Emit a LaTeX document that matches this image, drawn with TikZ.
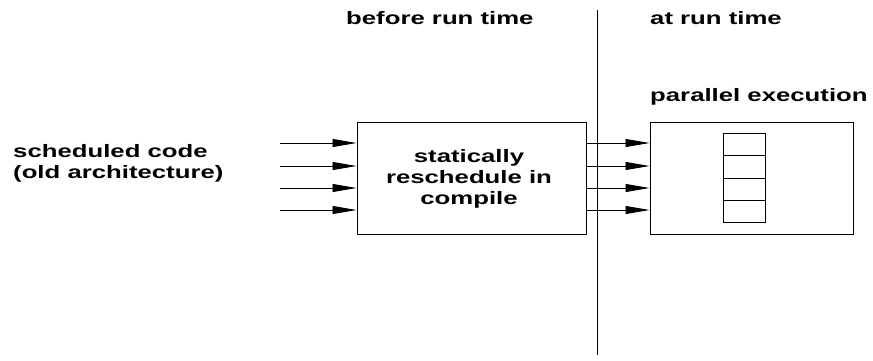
\documentclass[tikz,border=0pt]{standalone}
\usepackage{fontspec}
\setmainfont{Liberation Sans}[FakeStretch=1.43]
\usetikzlibrary{arrows.meta}

\begin{document}
\begin{tikzpicture}[x=1pt, y=-1pt,
    lbl/.style={font=\fontsize{18}{21}\selectfont\bfseries, inner sep=0pt},
    blk/.style={draw, line width=1pt, inner sep=0pt},
    flow/.style={-{Triangle[length=24pt, width=8pt]}, line width=0.9pt}]
    \useasboundingbox (0, 0) rectangle (873, 360);

    % divider
    \coordinate (top) at (597, 10);
    \coordinate (bot) at (597, 355);
    \draw[line width=1pt] (top) -- (bot);

    % headings
    \node[lbl, anchor=west] (before) at (346, 18) {before run time};
    \node[lbl, anchor=west] (atrun) at (650, 18) {at run time};
    \node[lbl, anchor=west] (par) at (650, 97) {parallel execution};

    % input label
    \node[lbl, anchor=west, align=left] (sched) at (13, 163) {scheduled code\\(old architecture)};

    % boxes
    \node[blk, minimum width=229pt, minimum height=112pt] (resched) at (471.5, 178) {};
    \node[lbl, align=center] at (469, 179) {statically\\reschedule in\\compile};
    \node[blk, minimum width=203pt, minimum height=112pt] (exec) at (751.5, 178) {};

    % stack of slots
    \foreach \i in {0,...,3}
        \node[blk, line width=0.8pt, minimum width=42pt, minimum height=22.25pt, anchor=north] (slot\i) at (744, 133+22.25*\i) {};

    % arrows
    \foreach \y [count=\k] in {143, 166, 188, 210} {
        \coordinate (in\k) at (280, \y);
        \draw[flow] (in\k) -- (in\k -| resched.west);
        \draw[flow] (in\k -| resched.east) -- (in\k -| exec.west);
    }
\end{tikzpicture}
\end{document}
